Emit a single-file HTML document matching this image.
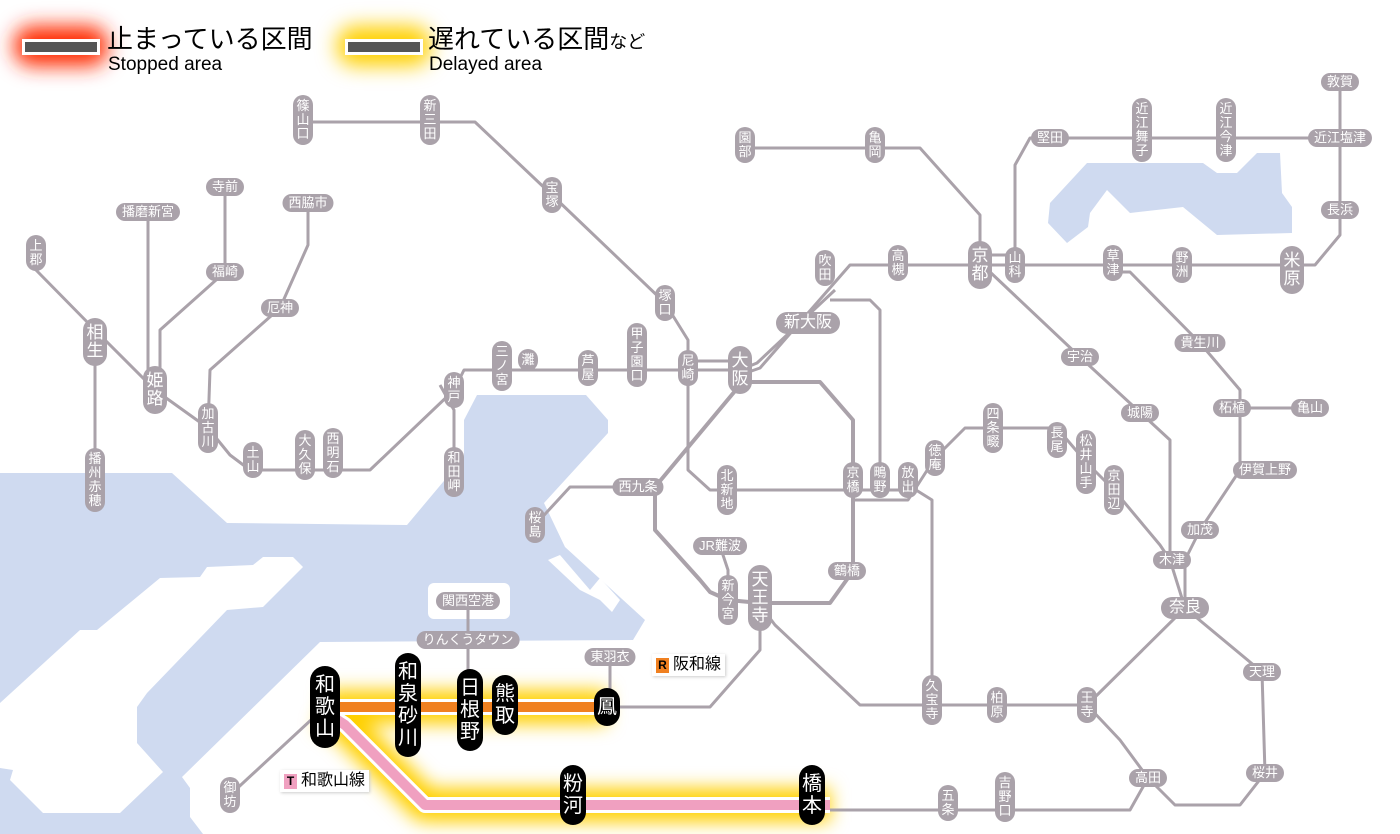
<!DOCTYPE html>
<html><head><meta charset="utf-8">
<style>
html,body{margin:0;padding:0;background:#fff;}
body{width:1400px;height:834px;position:relative;overflow:hidden;font-family:"Liberation Sans","Noto Sans CJK JP",sans-serif;}
svg{position:absolute;left:0;top:0;}
.s{position:absolute;transform:translate(-50%,-50%);background:#aaa2aa;color:#fff;font-size:13px;line-height:14px;text-align:center;border-radius:10px;white-space:nowrap;}
.v{width:20px;padding:4px 0;}
.h{padding:2px 6px;}
.b{font-size:17px;line-height:18px;width:24px;border-radius:12px;padding:6px 0;}
.bh{font-size:16px;line-height:18px;padding:2px 8px;border-radius:12px;}
.k{position:absolute;transform:translate(-50%,-50%);background:#000;color:#fff;font-size:20px;line-height:22px;width:30px;padding:8px 0;text-align:center;border-radius:15px;}
.lg{position:absolute;color:#000;white-space:nowrap;}
.tag{position:absolute;background:#fff;box-shadow:1px 1px 3px #ccc;font-size:16px;line-height:20px;padding:1px 4px;}
.tag b{display:inline-block;width:13px;text-align:center;font-size:12px;line-height:15px;margin-right:4px;}
</style></head><body>
<svg width="1400" height="834" viewBox="0 0 1400 834">
<defs>
<filter id="g" x="-50%" y="-80%" width="200%" height="260%"><feGaussianBlur stdDeviation="10"/></filter>
<filter id="g2" x="-50%" y="-50%" width="200%" height="200%"><feGaussianBlur stdDeviation="9"/></filter>
</defs>
<!-- water -->
<polygon fill="#cfdaf0" points="0,473 172,473 227,523 407,525 464,457 464,420 477,395 586,395 608,420 608,433 544,503 565,547 645,620 633,640 320,642 182,777 190,788 190,817 203,834 0,834"/>
<polygon fill="#fff" points="303,567 293,557 263,557 253,565 207,567 200,577 160,578 97,630 80,630 0,703 0,768 13,770 10,780 43,813 120,813 163,772 137,743 137,707 147,693 227,610 263,607 300,570"/>
<rect x="428" y="583" width="82" height="36" rx="6" fill="#fff"/>
<polygon fill="#fff" points="548,560 560,555 590,590 600,578 620,600 612,612 600,600 580,590"/>
<polygon fill="#cfdaf0" points="1050,203 1087,163 1203,163 1217,173 1237,173 1257,153 1280,153 1282,193 1292,207 1292,233 1217,235 1183,207 1130,213 1107,190 1090,213 1088,227 1067,243 1048,223"/>
<!-- legend glows -->
<rect x="14" y="26" width="94" height="40" rx="18" fill="#ff2a00" filter="url(#g)"/>
<rect x="337" y="26" width="94" height="40" rx="18" fill="#ffd000" filter="url(#g)"/>
<rect x="22" y="39" width="78" height="16" fill="#fff"/><rect x="25" y="42" width="72" height="10" fill="#555"/>
<rect x="345" y="39" width="78" height="16" fill="#fff"/><rect x="348" y="42" width="72" height="10" fill="#555"/>
<!-- yellow glows for lines -->
<g filter="url(#g2)" stroke="#ffd000" stroke-width="34" fill="none" stroke-linejoin="round">
<polyline points="325,707 607,707"/>
<polyline points="325,712 345,725 425,805 830,805"/>
</g>
<!-- gray lines -->
<g stroke="#aaa2aa" stroke-width="3" fill="none" stroke-linejoin="round">
<polyline points="303,122 475,122 552,195 665,303 688,340 688,470 710,490 880,490 908,490"/>
<polyline points="36,253 36,270 95,330 155,390 208,428 230,455 250,470 370,470 454,390 464,370 740,370"/>
<polyline points="688,361 740,361"/>
<polyline points="740,375 760,368 850,265 980,265 1292,265 1315,265 1340,235 1340,82"/>
<polyline points="740,370 757,363 835,290"/>
<polyline points="95,342 95,510"/>
<polyline points="148,212 148,390"/>
<polyline points="225,187 225,272 160,330 160,390"/>
<polyline points="308,203 308,245 280,308 210,370 208,428"/>
<polyline points="440,385 454,410 454,472"/>
<polyline points="980,265 980,215 920,148 745,148"/>
<polyline points="980,255 1015,255"/>
<polyline points="1015,265 1015,165 1030,138 1340,138"/>
<polyline points="990,272 1080,357 1170,440 1170,560 1185,608"/>
<polyline points="1113,272 1130,272 1200,343 1240,390 1240,408 1310,408"/>
<polyline points="1240,408 1240,470 1200,530 1185,560 1185,608"/>
<polyline points="1185,608 1262,672 1265,773 1240,805 1175,805 1148,778"/>
<polyline points="1185,608 1087,705 1120,740 1148,778"/>
<polyline points="1087,705 860,705 775,625 760,605"/>
<polyline points="1148,778 1130,810 830,810"/>
<polyline points="740,382 820,382 853,420 853,571 830,603 760,603 728,600 710,592 700,580 655,530 655,487 740,385" stroke-width="4"/>
<polyline points="638,487 570,487 535,525"/>
<polyline points="880,478 880,310 870,300 830,300"/>
<polyline points="853,500 908,500 935,458 965,428 1057,428 1086,462 1114,490 1160,545 1170,560"/>
<polyline points="908,485 932,500 932,705"/>
<polyline points="760,605 760,650 710,707 607,707"/>
<polyline points="325,707 230,795"/>
<polyline points="468,601 468,710"/>
<polyline points="610,657 610,707"/>
<polyline points="720,546 728,570 728,600"/>
</g>
<!-- colored lines -->
<polyline points="325,707 607,707" stroke="#fff" stroke-width="16" fill="none"/>
<polyline points="325,707 607,707" stroke="#f08020" stroke-width="10" fill="none"/>
<polyline points="325,712 345,725 425,805 830,805" stroke="#fff" stroke-width="16" fill="none" stroke-linejoin="round"/>
<polyline points="325,712 345,725 425,805 830,805" stroke="#f0a0c0" stroke-width="10" fill="none" stroke-linejoin="round"/>
</svg>

<div class="lg" style="left:107px;top:23px;font-size:26px;line-height:32px;">止まっている区間</div>
<div class="lg" style="left:108px;top:53px;font-size:19px;line-height:24px;">Stopped area</div>
<div class="lg" style="left:428px;top:23px;font-size:26px;line-height:32px;">遅れている区間<span style="font-size:18px">など</span></div>
<div class="lg" style="left:429px;top:53px;font-size:19px;line-height:24px;">Delayed area</div>

<div class="s v" style="left:303px;top:120px">篠<br>山<br>口</div>
<div class="s v" style="left:430px;top:120px">新<br>三<br>田</div>
<div class="s v" style="left:552px;top:195px">宝<br>塚</div>
<div class="s v" style="left:665px;top:303px">塚<br>口</div>
<div class="s v" style="left:688px;top:368px">尼<br>崎</div>
<div class="s v" style="left:637px;top:355px">甲<br>子<br>園<br>口</div>
<div class="s v" style="left:588px;top:368px">芦<br>屋</div>
<div class="s v" style="left:528px;top:360px">灘</div>
<div class="s v" style="left:502px;top:366px">三<br>ノ<br>宮</div>
<div class="s v" style="left:454px;top:390px">神<br>戸</div>
<div class="s v" style="left:454px;top:472px">和<br>田<br>岬</div>
<div class="s v" style="left:333px;top:453px">西<br>明<br>石</div>
<div class="s v" style="left:305px;top:455px">大<br>久<br>保</div>
<div class="s v" style="left:253px;top:460px">土<br>山</div>
<div class="s v" style="left:208px;top:428px">加<br>古<br>川</div>
<div class="s b" style="left:155px;top:390px">姫<br>路</div>
<div class="s b" style="left:95px;top:342px">相<br>生</div>
<div class="s v" style="left:36px;top:253px">上<br>郡</div>
<div class="s v" style="left:95px;top:480px">播<br>州<br>赤<br>穂</div>
<div class="s h" style="left:148px;top:212px">播磨新宮</div>
<div class="s h" style="left:225px;top:187px">寺前</div>
<div class="s h" style="left:225px;top:272px">福崎</div>
<div class="s h" style="left:308px;top:203px">西脇市</div>
<div class="s h" style="left:280px;top:308px">厄神</div>
<div class="s b" style="left:740px;top:370px">大<br>阪</div>
<div class="s bh" style="left:808px;top:323px">新大阪</div>
<div class="s v" style="left:825px;top:268px">吹<br>田</div>
<div class="s v" style="left:898px;top:263px">高<br>槻</div>
<div class="s b" style="left:980px;top:265px">京<br>都</div>
<div class="s v" style="left:1015px;top:265px">山<br>科</div>
<div class="s v" style="left:875px;top:145px">亀<br>岡</div>
<div class="s v" style="left:745px;top:145px">園<br>部</div>
<div class="s h" style="left:1050px;top:138px">堅田</div>
<div class="s v" style="left:1142px;top:130px">近<br>江<br>舞<br>子</div>
<div class="s v" style="left:1226px;top:130px">近<br>江<br>今<br>津</div>
<div class="s h" style="left:1340px;top:82px">敦賀</div>
<div class="s h" style="left:1340px;top:138px">近江塩津</div>
<div class="s h" style="left:1340px;top:210px">長浜</div>
<div class="s b" style="left:1292px;top:270px">米<br>原</div>
<div class="s v" style="left:1182px;top:265px">野<br>洲</div>
<div class="s v" style="left:1113px;top:263px">草<br>津</div>
<div class="s h" style="left:1080px;top:357px">宇治</div>
<div class="s h" style="left:1140px;top:413px">城陽</div>
<div class="s h" style="left:1200px;top:343px">貴生川</div>
<div class="s h" style="left:1232px;top:408px">柘植</div>
<div class="s h" style="left:1310px;top:408px">亀山</div>
<div class="s h" style="left:1265px;top:470px">伊賀上野</div>
<div class="s h" style="left:1200px;top:530px">加茂</div>
<div class="s h" style="left:1172px;top:560px">木津</div>
<div class="s bh" style="left:1185px;top:608px">奈良</div>
<div class="s h" style="left:1262px;top:672px">天理</div>
<div class="s h" style="left:1265px;top:773px">桜井</div>
<div class="s h" style="left:1148px;top:778px">高田</div>
<div class="s v" style="left:1087px;top:705px">王<br>寺</div>
<div class="s v" style="left:997px;top:705px">柏<br>原</div>
<div class="s v" style="left:932px;top:700px">久<br>宝<br>寺</div>
<div class="s v" style="left:908px;top:480px">放<br>出</div>
<div class="s v" style="left:880px;top:480px">鴫<br>野</div>
<div class="s v" style="left:853px;top:480px">京<br>橋</div>
<div class="s v" style="left:935px;top:458px">徳<br>庵</div>
<div class="s v" style="left:993px;top:428px">四<br>条<br>畷</div>
<div class="s v" style="left:1057px;top:440px">長<br>尾</div>
<div class="s v" style="left:1086px;top:462px">松<br>井<br>山<br>手</div>
<div class="s v" style="left:1114px;top:490px">京<br>田<br>辺</div>
<div class="s v" style="left:727px;top:490px">北<br>新<br>地</div>
<div class="s h" style="left:638px;top:487px">西九条</div>
<div class="s v" style="left:535px;top:525px">桜<br>島</div>
<div class="s h" style="left:720px;top:546px">JR難波</div>
<div class="s v" style="left:728px;top:600px">新<br>今<br>宮</div>
<div class="s b" style="left:760px;top:598px">天<br>王<br>寺</div>
<div class="s h" style="left:847px;top:571px">鶴橋</div>
<div class="s h" style="left:468px;top:601px">関西空港</div>
<div class="s h" style="left:468px;top:640px">りんくうタウン</div>
<div class="s h" style="left:610px;top:657px">東羽衣</div>
<div class="s v" style="left:948px;top:803px">五<br>条</div>
<div class="s v" style="left:1005px;top:797px">吉<br>野<br>口</div>
<div class="s v" style="left:230px;top:795px">御<br>坊</div>

<div class="k" style="left:325px;top:707px">和<br>歌<br>山</div>
<div class="k" style="left:408px;top:705px;width:26px">和<br>泉<br>砂<br>川</div>
<div class="k" style="left:470px;top:710px;width:26px">日<br>根<br>野</div>
<div class="k" style="left:505px;top:705px;width:26px">熊<br>取</div>
<div class="k" style="left:607px;top:707px;width:26px">鳳</div>
<div class="k" style="left:573px;top:795px;width:26px">粉<br>河</div>
<div class="k" style="left:812px;top:795px;width:26px">橋<br>本</div>

<div class="tag" style="left:652px;top:654px"><b style="background:#f08020;color:#000">R</b>阪和線</div>
<div class="tag" style="left:280px;top:770px"><b style="background:#f0a0c0;color:#000">T</b>和歌山線</div>
</body></html>
